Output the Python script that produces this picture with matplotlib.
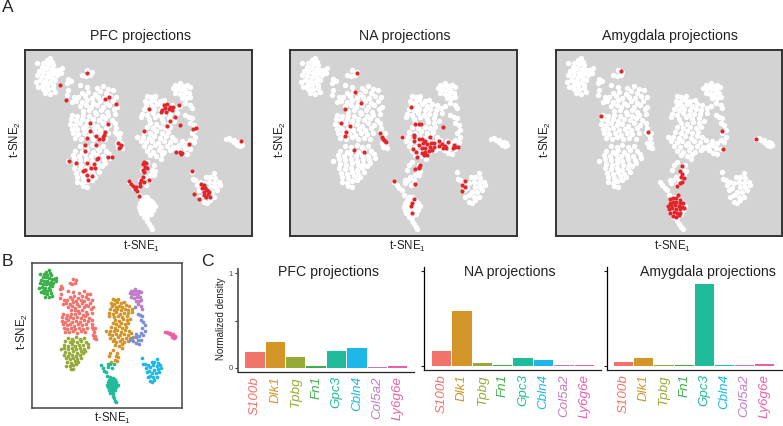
import matplotlib
matplotlib.use("Agg")
import matplotlib.pyplot as plt
import numpy as np

plt.rcParams['font.family'] = ['Liberation Sans', 'DejaVu Sans']
plt.rcParams['mathtext.default'] = 'regular'

W, H = 783, 426
GENES = ["S100b", "Dlk1", "Tpbg", "Fn1", "Gpc3", "Cbln4", "Col5a2", "Ly6g6e"]
GENE_COLORS = ["#F2736B", "#D39527", "#96AA38", "#3BB04A", "#1FBB9A", "#1DB8E8", "#C07CC8", "#EC5FA8"]
TITLES = ["PFC projections", "NA projections", "Amygdala projections"]
PFC_VALUES = [0.17, 0.27, 0.115, 0.015, 0.18, 0.21, 0.01, 0.018]
NA_VALUES = [0.155, 0.575, 0.03, 0.008, 0.085, 0.065, 0.007, 0.007]
AMY_VALUES = [0.04, 0.08, 0.007, 0.007, 0.865, 0.007, 0.007, 0.02]

green = [(150,175),(140,181),(155,186),(130,190),(145,193),(160,196),(125,201),(138,204),(152,206),(165,209),
         (118,212),(130,216),(145,218),(160,220),(175,211),(185,205),(112,226),(125,229),(140,231),(155,233),
         (170,226),(182,218),(120,240),(135,243),(150,245),(165,239),(108,245),(128,253),(142,256),(158,254),
         (115,260),(130,266),(145,268),(160,264),(135,278),(150,281),(165,276),(112,190),(126,258),(148,225)]
salmon = [(262,210),(275,215),(270,226),(245,224),(258,229),(240,255),(262,262),(205,238),(213,243),(200,248),
          (205,270),(200,285),(222,290),(215,305),(290,263),(310,258),(325,268),(245,280),(265,276),(285,282),
          (300,274),(318,280),(340,270),(235,292),(255,288),(275,295),(295,290),(312,294),(330,287),(348,292),
          (228,304),(245,306),(262,300),(280,308),(300,304),(318,310),(338,302),(240,318),(258,315),(272,322),
          (290,316),(310,320),(328,316),(350,320),(250,332),(268,330),(285,335),(303,330),(320,337),(342,328),
          (215,345),(232,348),(250,344),(268,347),(288,343),(305,349),(325,345),(345,342),(212,358),(228,360),
          (245,356),(262,362),(280,358),(298,361),(316,355),(335,360),(210,372),(225,375),(240,370),(258,376),
          (275,372),(292,377),(310,370),(328,374),(345,368),(215,386),(232,388),(248,384),(265,391),(282,386),
          (300,389),(318,384),(218,400),(235,403),(252,398),(270,404),(288,400),(305,403),(325,398),(225,414),
          (242,417),(260,412),(278,418),(296,413),(315,416),(348,385),(345,396),(352,403),(358,415),(362,430),
          (350,428),(355,440),(365,443),(360,398)]
olive = [(240,438),(258,442),(275,436),(292,441),(310,438),(225,452),(245,455),(262,450),(280,456),(298,451),
         (318,454),(220,465),(238,468),(255,463),(272,469),(290,464),(308,467),(328,462),(222,478),(240,481),
         (258,476),(275,482),(293,477),(312,480),(330,475),(225,492),(243,495),(260,490),(278,496),(295,491),
         (315,489),(222,505),(240,508),(258,503),(275,509),(292,504),(305,497),(228,518),(245,521),(262,516),
         (280,522),(297,515),(232,531),(250,534),(268,529),(285,532),(230,546),(245,548),(260,544),(275,540),
         (250,557),(262,560),(205,482)]
orange = [(440,288),(452,292),(465,287),(435,302),(448,305),(462,300),(478,304),(492,299),(438,315),(455,318),
          (470,313),(485,317),(500,312),(515,316),(430,328),(445,331),(460,326),(478,331),(495,327),(512,330),
          (528,325),(425,342),(440,344),(458,339),(475,345),(490,341),(508,343),(530,338),(422,352),(445,356),
          (465,352),(485,358),(505,353),(450,368),(468,372),(488,366),(505,370),(520,364),(440,382),(458,385),
          (478,380),(495,384),(510,380),(432,396),(450,399),(468,394),(485,400),(503,395),(428,410),(445,413),
          (462,408),(480,414),(498,409),(515,412),(422,424),(438,427),(455,422),(472,428),(490,423),(508,426),
          (525,421),(430,438),(448,441),(465,436),(482,442),(500,437),(518,440),(535,435),(440,452),(458,455),
          (475,450),(492,456),(510,451),(450,465),(468,468),(485,463),(482,478),(412,412),(440,485),(430,495),
          (425,510),(462,495),(455,510),(465,512),(450,525),(435,530),(460,526)]
teal = [(388,545),(395,555),(402,565),(410,570),(420,550),(428,540),(418,540),(445,540),(438,555),(415,585),
        (430,590),(440,592),(425,600),(435,601),(445,599),(452,602),(418,610),(428,611),(438,609),(448,612),
        (458,610),(415,620),(425,621),(435,619),(445,622),(455,620),(463,619),(418,630),(428,631),(438,629),
        (448,632),(458,630),(422,640),(432,641),(442,639),(452,641),(430,650),(440,652),(440,662),(445,672),
        (452,682),(456,688)]
purple = [(540,248),(525,255),(535,258),(548,257),(560,255),(518,265),(530,268),(542,267),(555,270),(568,262),
          (525,280),(538,282),(550,281),(565,278),(545,295),(558,294),(570,290),(555,308),(570,315),(575,325)]
periwinkle = [(555,345),(565,350),(575,355),(570,370),(580,375),(585,390),(575,400),(585,410),(570,420),(580,426),
              (560,430),(545,435),(555,445),(570,446),(535,450),(548,458),(560,461),(530,440),(520,445),(545,424),
              (540,318)]
sky = [(640,520),(630,530),(645,535),(618,530),(655,545),(640,548),(625,545),(612,550),(660,555),(645,560),
       (630,562),(600,545),(585,540),(578,538),(590,555),(605,565),(620,575),(635,575),(650,570),(595,570),
       (610,585),(625,590),(640,590),(600,590),(612,605),(620,610),(630,600),(575,515)]
pink = [(678,417),(685,415),(692,420),(700,425),(708,428),(715,425),(722,430),(710,436),(718,438),(725,435),(700,420)]

clusters = [(salmon, GENE_COLORS[0]), (orange, GENE_COLORS[1]), (olive, GENE_COLORS[2]), (green, GENE_COLORS[3]),
            (teal, GENE_COLORS[4]), (sky, GENE_COLORS[5]), (purple, GENE_COLORS[6]), (pink, GENE_COLORS[7]),
            (periwinkle, "#7A8FD6")]

red_pfc = [(262,220),(179,256),(197,299),(316,298),(328,292),(349,311),(269,370),(325,373),(271,394),(260,413),
           (289,407),(296,418),(308,418),(311,405),(316,396),(310,412),(254,436),(288,435),(355,430),(360,440),
           (363,436),(356,445),(254,454),(206,482),(227,488),(250,514),(256,510),(262,488),(283,491),(272,505),
           (286,505),(295,475),(292,476),(325,470),(336,470),(260,526),(276,528),(263,540),(446,328),(490,315),
           (500,312),(510,320),(495,325),(505,328),(515,330),(485,330),(497,335),(482,335),(518,322),(536,314),
           (525,352),(508,363),(500,377),(538,375),(432,393),(578,387),(586,384),(566,432),(528,457),(538,455),
           (543,462),(545,458),(722,424),(432,485),(438,490),(428,492),(434,500),(440,505),(428,510),(432,515),
           (428,530),(422,540),(420,548),(430,545),(445,540),(388,543),(392,552),(400,558),(408,560),(418,558),
           (405,568),(412,572),(415,587),(575,514),(582,582),(597,597),(602,552),(610,555),(605,565),(615,565),
           (612,575),(620,570),(622,582),(630,590),(618,590),(610,585),(625,575)]
red_na = [(276,218),(271,276),(287,310),(241,327),(227,369),(256,378),(243,395),(239,407),(267,451),(298,456),
          (345,399),(350,412),(355,418),(360,422),(363,427),(358,420),(412,412),(436,321),(449,371),(460,371),
          (467,372),(533,382),(445,405),(445,410),(460,418),(470,418),(480,422),(493,412),(445,422),(460,435),
          (473,430),(485,432),(497,430),(507,428),(520,422),(530,432),(540,438),(547,426),(443,448),(453,455),
          (470,445),(480,445),(493,440),(505,442),(520,438),(533,445),(543,445),(455,470),(470,460),(480,455),
          (490,452),(500,450),(477,465),(485,465),(563,445),(570,440),(577,442),(565,435),(450,507),(460,505),
          (465,495),(462,500),(387,542),(448,551),(446,597),(440,610),(437,618),(439,639),(598,544),(590,556),
          (600,560),(589,574)]
red_amy = [(270,212),(211,349),(352,397),(574,392),(577,446),(678,418),(453,497),(447,512),(455,522),(452,530),
           (459,535),(455,545),(447,550),(438,558),(442,585),(427,593),(417,597),(437,595),(449,600),(417,608),
           (427,605),(437,605),(447,608),(457,610),(412,618),(422,615),(432,615),(444,618),(455,620),(415,628),
           (425,625),(435,628),(447,628),(459,625),(419,638),(429,635),(439,638),(449,638),(427,647),(437,650),
           (445,645)]

def px_axes(fig, l, t, r, b):
    return fig.add_axes([l / W, 1 - b / H, (r - l) / W, (b - t) / H])

def label(fig, x, y, s, **kw):
    kw.setdefault("ha", "center")
    kw.setdefault("va", "center")
    fig.text(x / W, 1 - y / H, s, **kw)

def xy(points):
    a = np.array(points, dtype=float)
    return a[:, 0], a[:, 1]

fig = plt.figure(figsize=(W / 100, H / 100), dpi=100, facecolor="white")

# Panel A
a_boxes = [(25, 49.5, 252, 236.5), (290, 49.5, 517, 236.5), (556, 49.5, 782, 236.5)]
a_reds = [red_pfc, red_na, red_amy]
a_title_x = [141, 405, 670]
a_ylab_x = [15, 280, 545]
a_xlab_x = [141, 407, 672]
for box, reds, title, tx, yx, xx in zip(a_boxes, a_reds, TITLES, a_title_x, a_ylab_x, a_xlab_x):
    ax = px_axes(fig, *box)
    ax.set_facecolor("#D3D3D3")
    for pts, _ in clusters:
        ax.scatter(*xy(pts), s=15, c="white", linewidths=0, zorder=2)
    ax.scatter(*xy(reds), s=9, c="#E0262A", linewidths=0, zorder=3)
    ax.set_xlim(75, 755)
    ax.set_ylim(710, 148)
    ax.set_xticks([]); ax.set_yticks([])
    for s in ax.spines.values():
        s.set_linewidth(1.4); s.set_color("#333333")
    label(fig, tx, 36, title, fontsize=10.2, color="#222222")
    label(fig, xx, 246, "t-SNE$_1$", fontsize=8.3, color="#222222")
    label(fig, yx, 140, "t-SNE$_2$", fontsize=8.3, rotation=90, color="#222222")

# Panel B
ax = px_axes(fig, 32, 263, 182, 408)
for pts, col in clusters:
    ax.scatter(*xy(pts), s=7, c=col, linewidths=0)
ax.set_xlim(75, 755)
ax.set_ylim(710, 148)
ax.set_xticks([]); ax.set_yticks([])
for s in ax.spines.values():
    s.set_linewidth(1.1); s.set_color("#444444")
label(fig, 112, 418, "t-SNE$_1$", fontsize=8.3, color="#222222")
label(fig, 22, 332, "t-SNE$_2$", fontsize=8.3, rotation=90, color="#222222")

# Panel C
c_boxes = [(238, 269, 414, 372), (424, 267, 601, 370), (607, 267, 783, 370)]
c_values = [PFC_VALUES, NA_VALUES, AMY_VALUES]
c_title_x = [328, 510, 708]
c_xlim = [(-0.83, 7.8), (-0.86, 7.82), (-0.82, 7.9)]
c_zero = [367.7, 365.7, 365.7]
c_one = [273.3, 271, 271]
x_pos = np.arange(len(GENES))
for i, (box, vals, tx, xl, z0, z1) in enumerate(zip(c_boxes, c_values, c_title_x, c_xlim, c_zero, c_one)):
    ax = px_axes(fig, *box)
    ax.patch.set_alpha(0)
    ax.bar(x_pos, vals, width=0.95, color=GENE_COLORS, linewidth=0)
    ax.set_xlim(*xl)
    scale = z0 - z1
    ax.set_ylim((z0 - box[3]) / scale, (z0 - box[1]) / scale)
    ax.set_xticks(x_pos)
    ax.set_xticklabels(GENES, rotation=90, style="italic", fontsize=9.6)
    for lab, col in zip(ax.get_xticklabels(), GENE_COLORS):
        lab.set_color(col)
    ax.tick_params(axis="x", length=0, pad=3)
    ax.set_yticks([0, 0.5, 1])
    if i == 0:
        ax.set_yticklabels(["0", "", "1"], fontsize=5.5, color="#444444")
        ax.tick_params(axis="y", length=2.5, width=0.8, pad=1.5, color="#333333")
        ax.spines["left"].set_color("#555555")
        ax.spines["left"].set_linewidth(1.3)
    else:
        ax.set_yticks([0, 1])
        ax.set_yticklabels(["", ""])
        ax.tick_params(axis="y", length=2.5, width=0.8, color="#222222")
        ax.spines["left"].set_linewidth(0.9)
    ax.spines["top"].set_visible(False)
    ax.spines["right"].set_visible(False)
    ax.spines["bottom"].set_linewidth(0.9)
    ax.spines["bottom"].set_color("#222222")
    label(fig, tx, 272, TITLES[i], fontsize=10.2, color="#222222")
label(fig, 221, 319, "Normalized density", fontsize=7, rotation=90, color="#222222")

# Panel letters
label(fig, 2, 8, "A", fontsize=12.5, ha="left", color="#222222")
label(fig, 2, 262, "B", fontsize=12.5, ha="left", color="#222222")
label(fig, 201, 262, "C", fontsize=12.5, ha="left", color="#222222")

fig.savefig("out.png", dpi=100)
